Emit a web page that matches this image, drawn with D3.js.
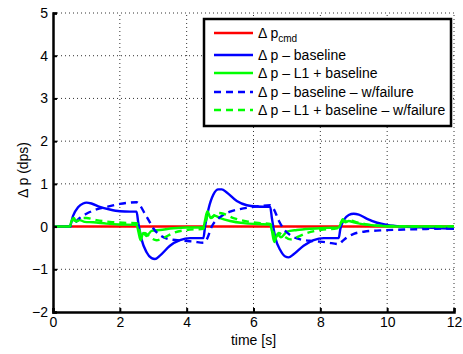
<!DOCTYPE html>
<html>
<head>
<meta charset="utf-8">
<script src="https://cdn.jsdelivr.net/npm/d3@7"></script>
<style>
  html, body { margin: 0; padding: 0; background: #fff; }
  svg text { font-family: "Liberation Sans", Arial, Helvetica, sans-serif; }
</style>
</head>
<body>
<svg id="chart" width="463" height="354"></svg>
<script>
// Roll-rate response Δp over time, [time s, value dps]
const cmdData = [[0, 0], [12, 0]];

const baselineData = [
  [0,0],[0.5,0],[0.6,0.25],[0.75,0.45],[0.9,0.54],[1.0,0.56],[1.15,0.54],[1.4,0.46],
  [1.7,0.4],[2.0,0.36],[2.3,0.35],[2.5,0.35],[2.55,0.1],[2.65,-0.3],[2.8,-0.6],
  [2.95,-0.74],[3.05,-0.76],[3.2,-0.68],[3.5,-0.45],[3.8,-0.32],[4.1,-0.27],[4.5,-0.27],
  [4.55,0.0],[4.65,0.4],[4.8,0.75],[4.95,0.87],[5.05,0.87],[5.2,0.8],[5.5,0.6],[5.8,0.5],
  [6.1,0.47],[6.5,0.46],[6.55,0.2],[6.65,-0.25],[6.8,-0.55],[6.95,-0.7],[7.05,-0.72],
  [7.2,-0.65],[7.5,-0.45],[7.8,-0.32],[8.1,-0.27],[8.55,-0.27],[8.6,-0.05],[8.7,0.15],
  [8.85,0.27],[9.0,0.3],[9.15,0.28],[9.4,0.18],[9.7,0.09],[10.0,0.04],[10.5,0.0],
  [11,-0.02],[12,-0.05]
];

const l1Data = [
  [0,0],[0.5,0],[0.55,0.12],[0.62,0.2],[0.7,0.12],[0.8,0.15],[0.95,0.11],[1.2,0.1],
  [1.6,0.07],[2.0,0.05],[2.5,0.04],[2.55,-0.1],[2.62,-0.32],[2.7,-0.15],[2.8,-0.22],
  [2.95,-0.1],[3.2,-0.08],[3.6,-0.04],[4.0,-0.02],[4.5,-0.02],[4.55,0.15],[4.62,0.36],
  [4.72,0.2],[4.82,0.26],[5.0,0.2],[5.3,0.13],[5.7,0.08],[6.1,0.06],[6.5,0.05],
  [6.55,-0.1],[6.62,-0.36],[6.72,-0.18],[6.82,-0.25],[7.0,-0.12],[7.3,-0.08],[7.7,-0.05],
  [8.2,-0.03],[8.55,-0.02],[8.6,0.05],[8.67,0.17],[8.75,0.1],[8.85,0.13],[9.0,0.1],
  [9.3,0.05],[9.7,0.02],[10.2,0.0],[12,0]
];

const baselineFailData = [
  [0,0],[0.5,0],[0.6,0.05],[0.8,0.2],[1.0,0.3],[1.3,0.4],[1.6,0.46],[2.0,0.53],[2.3,0.56],
  [2.5,0.57],[2.6,0.5],[2.75,0.3],[2.9,0.1],[3.0,-0.04],[3.2,-0.2],[3.5,-0.3],[3.9,-0.33],
  [4.2,-0.35],[4.5,-0.38],[4.6,-0.3],[4.75,0.0],[5.0,0.22],[5.3,0.35],[5.6,0.41],[6.0,0.46],
  [6.5,0.5],[6.6,0.42],[6.75,0.15],[6.9,-0.05],[7.1,-0.2],[7.4,-0.3],[7.8,-0.34],
  [8.2,-0.37],[8.55,-0.41],[8.65,-0.35],[8.8,-0.25],[9.0,-0.17],[9.3,-0.12],[9.8,-0.09],
  [10.5,-0.07],[11.5,-0.05],[12,-0.04]
];

const l1FailData = [
  [0,0],[0.5,0],[0.6,0.15],[0.7,0.12],[0.85,0.2],[1.0,0.2],[1.3,0.15],[1.7,0.11],
  [2.1,0.09],[2.5,0.08],[2.58,-0.05],[2.65,-0.25],[2.75,-0.15],[2.9,-0.25],[3.1,-0.32],
  [3.3,-0.27],[3.6,-0.15],[4.0,-0.08],[4.5,-0.05],[4.58,0.15],[4.65,0.3],[4.75,0.2],
  [4.9,0.32],[5.1,0.3],[5.4,0.2],[5.8,0.12],[6.2,0.08],[6.5,0.06],[6.58,-0.1],[6.65,-0.3],
  [6.75,-0.15],[6.9,-0.22],[7.1,-0.3],[7.3,-0.25],[7.6,-0.15],[8.0,-0.08],[8.5,-0.04],
  [8.6,0.08],[8.7,0.12],[8.9,0.14],[9.1,0.1],[9.4,0.05],[9.8,0.02],[12,0]
];

const xTicks = [0, 2, 4, 6, 8, 10, 12];
const yTicks = [-2, -1, 0, 1, 2, 3, 4, 5];

const series = [
  { data: cmdData,          color: "#ff0000", dash: null,  label: "cmd" },
  { data: baselineData,     color: "#0000ff", dash: null,  label: "Δ p – baseline" },
  { data: l1Data,           color: "#00ff00", dash: null,  label: "Δ p – L1 + baseline" },
  { data: baselineFailData, color: "#0000ff", dash: "7,5", label: "Δ p – baseline – w/failure" },
  { data: l1FailData,       color: "#00ff00", dash: "7,5", label: "Δ p – L1 + baseline – w/failure" }
];

const W = 463, H = 354;
const margin = { left: 53, right: 9, top: 13, bottom: 42 };
const FS = 14;
const svg = d3.select("#chart");

const x = d3.scaleLinear().domain([0, 12]).range([margin.left, W - margin.right]);
const y = d3.scaleLinear().domain([-2, 5]).range([H - margin.bottom, margin.top]);

// dotted grid
const grid = svg.append("g");
grid.selectAll("line.gx").data(xTicks.filter(d => d > 0)).join("line")
  .attr("x1", d => x(d)).attr("x2", d => x(d))
  .attr("y1", y(-2)).attr("y2", y(5))
  .attr("stroke", "#333").attr("stroke-width", 1).attr("stroke-dasharray", "1,3");
grid.selectAll("line.gy").data(yTicks.filter(d => d > -2)).join("line")
  .attr("x1", x(0)).attr("x2", x(12))
  .attr("y1", d => y(d)).attr("y2", d => y(d))
  .attr("stroke", "#333").attr("stroke-width", 1).attr("stroke-dasharray", "1,3");

// curves
const line = d3.line().x(d => x(d[0])).y(d => y(d[1])).curve(d3.curveMonotoneX);
const plot = svg.append("g");
series.forEach(s => {
  plot.append("path").datum(s.data)
    .attr("d", line)
    .attr("fill", "none")
    .attr("stroke", s.color)
    .attr("stroke-width", 2.4)
    .attr("stroke-linejoin", "round")
    .attr("stroke-dasharray", s.dash);
});

// axes
const xAxis = d3.axisBottom(x).tickValues(xTicks).tickSize(-4).tickPadding(7).tickFormat(d3.format("d"));
const yAxis = d3.axisLeft(y).tickValues(yTicks).tickSize(-4).tickPadding(5)
  .tickFormat(d => d < 0 ? "−" + Math.abs(d) : String(d));

const gx = svg.append("g").attr("transform", `translate(0,${y(-2)})`).call(xAxis);
const gy = svg.append("g").attr("transform", `translate(${x(0)},0)`).call(yAxis);
[gx, gy].forEach(g => {
  g.select(".domain").attr("stroke", "#000").attr("stroke-width", 2.5);
  g.selectAll(".tick line").attr("stroke", "#000").attr("stroke-width", 2);
  g.selectAll(".tick text").attr("fill", "#000").attr("font-size", FS)
    .attr("font-family", "Liberation Sans, Arial, sans-serif");
});
gx.selectAll(".tick text").attr("dy", "0.6em");

// axis titles
svg.append("text").attr("x", x(6)).attr("y", 345)
  .attr("text-anchor", "middle").attr("font-size", FS).text("time [s]");
svg.append("text").attr("transform", `translate(28,170) rotate(-90)`)
  .attr("text-anchor", "middle").attr("font-size", FS).text("Δ p (dps)");

// legend
const lg = svg.append("g");
const lx0 = 204, ly0 = 19, lw = 247, lh = 107;
lg.append("rect").attr("x", lx0).attr("y", ly0).attr("width", lw).attr("height", lh)
  .attr("fill", "#fff").attr("stroke", "#000").attr("stroke-width", 2.5);
const rowY = [33, 55, 73, 92, 110];
series.forEach((s, i) => {
  const yy = rowY[i];
  lg.append("line").attr("x1", 214).attr("x2", 253).attr("y1", yy).attr("y2", yy)
    .attr("stroke", s.color).attr("stroke-width", 2.4).attr("stroke-dasharray", s.dash);
  const t = lg.append("text").attr("x", 258).attr("y", yy + 5).attr("font-size", FS);
  if (i === 0) {
    t.append("tspan").text("Δ p");
    t.append("tspan").attr("dy", 4).attr("font-size", 10).text(s.label);
  } else {
    t.text(s.label);
  }
});
</script>
</body>
</html>
